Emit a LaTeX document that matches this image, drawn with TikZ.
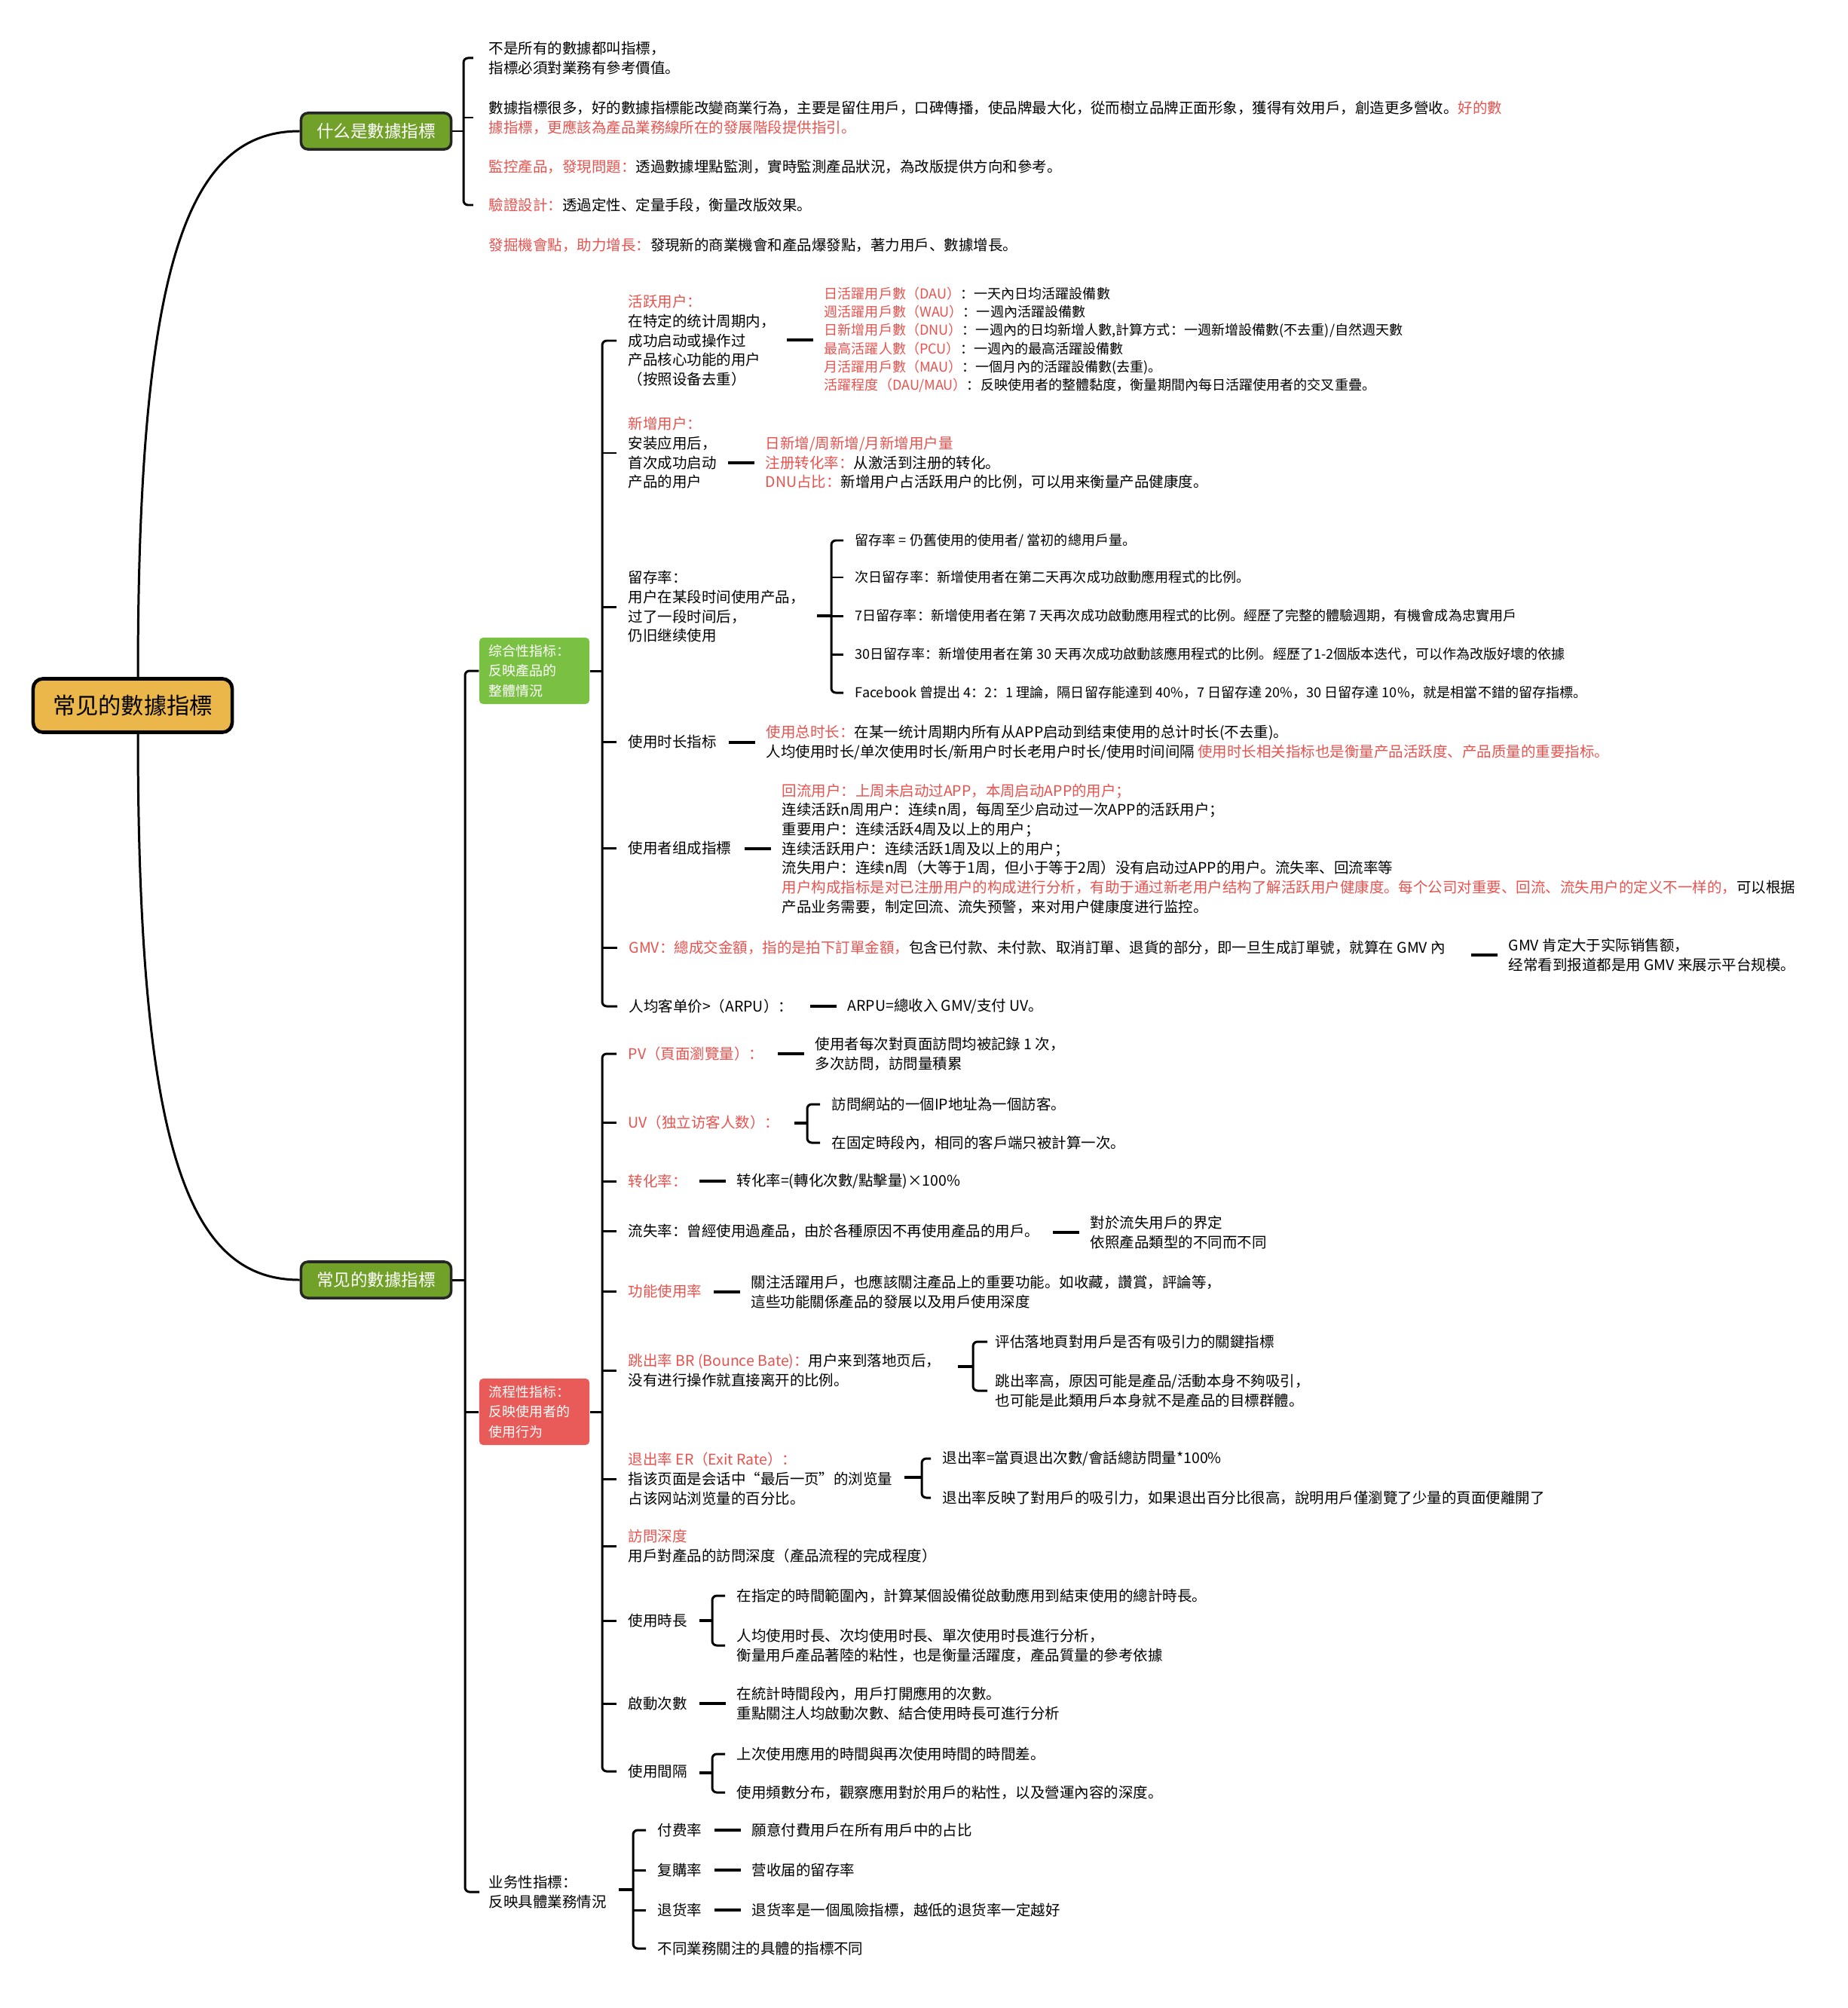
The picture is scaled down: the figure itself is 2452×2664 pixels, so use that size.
\documentclass[tikz,border=0pt]{standalone}
\usepackage{fontspec}
\setmainfont{Noto Sans CJK SC}
\definecolor{rootgold}{HTML}{EBB74A}
\definecolor{branchgreen}{HTML}{72A12A}
\definecolor{groupgreen}{HTML}{7AC143}
\definecolor{groupred}{HTML}{E95B58}
\definecolor{notered}{HTML}{E8534F}
\newcommand{\redtxt}[1]{\textcolor{notered}{#1}}

\begin{document}
\begin{tikzpicture}[x=0.01cm, y=-0.01cm,
  link/.style={line width=0.85pt},
  stub/.style={line width=1.3pt},
  note/.style={anchor=west, inner sep=0pt, align=left, font=\fontsize{5.54}{7.3}\selectfont},
  smallnote/.style={note, font=\fontsize{5.14}{6.9}\selectfont},
  rootbox/.style={draw=black, line width=1.3pt, fill=rootgold, rounded corners=0.13cm,
    minimum width=2.64cm, minimum height=0.71cm, inner sep=0pt, font=\fontsize{8.6}{10}\selectfont},
  branchbox/.style={draw=black!85, line width=1pt, fill=branchgreen, text=white, rounded corners=0.09cm,
    minimum width=1.99cm, minimum height=0.48cm, inner sep=0pt, font=\fontsize{6.4}{8}\selectfont},
  groupbox/.style={rounded corners=0.05cm, text=white, text width=1.2cm, inner xsep=0.13cm, inner ysep=0pt,
    minimum height=0.88cm, align=left, font=\fontsize{5.1}{7.5}\selectfont}]
  \useasboundingbox (0,0) rectangle (2452,2664);
  \fill[white] (0,0) rectangle (2452,2664);

  % \twig[gap]{spine}{child}: straight tick from a brace spine to one child
  \newcommand{\twig}[3][1.5mm]{\draw[link] (#3.west -| #2) -- ([xshift=-#1]#3.west);}
  % \arm[gap]{spine}{first}{last}: brace spine, rounded at the first and last child
  \newcommand{\arm}[4][1.5mm]{\draw[link, rounded corners=0.06cm] ([xshift=-#1]#3.west) -- (#3.west -| #2)
    -- (#4.west -| #2) -- ([xshift=-#1]#4.west);}
  % \stubto{child}: short thick stroke leading into a detail node
  \newcommand{\stubto}[1]{\draw[stub] ([xshift=-0.49cm]#1.west) -- ([xshift=-0.14cm]#1.west);}

  % ---------- root and the two main branches ----------
  \node[rootbox] (root) at (176,936) {常见的數據指標};
  \node[branchbox] (what) at (499,174) {什么是數據指標};
  \node[branchbox] (common) at (499,1698) {常见的數據指標};
  \draw[link] ([xshift=0.07cm]root.north) .. controls +(0,-560) and +(-145,0) .. (what.west);
  \draw[link] ([xshift=0.07cm]root.south) .. controls +(0,560) and +(-145,0) .. (common.west);

  % ---------- 什么是數據指標 ----------
  \coordinate (sp-what) at (615,174);
  \node[note] (t1) at (648,77) {不是所有的數據都叫指標，\\指標必須對業務有參考價值。};
  \node[note] (t2) at (648,156) {數據指標很多，好的數據指標能改變商業行為，主要是留住用戶，口碑傳播，使品牌最大化，從而樹立品牌正面形象，獲得有效用戶，創造更多營收。\redtxt{好的數}\\\redtxt{據指標，更應該為產品業務線所在的發展階段提供指引。}};
  \node[note] (t3) at (648,221) {\redtxt{監控產品，發現問題：}透過數據埋點監測，實時監測產品狀況，為改版提供方向和參考。};
  \node[note] (t4) at (648,272) {\redtxt{驗證設計：}透過定性、定量手段，衡量改版效果。};
  \node[note] (t5) at (648,325) {\redtxt{發掘機會點，助力增長：}發現新的商業機會和產品爆發點，著力用戶、數據增長。};
  \draw[link] (what.east) -- (sp-what);
  \arm[2mm]{sp-what}{t1}{t4}
  \twig[2mm]{sp-what}{t2}

  % ---------- 常见的數據指標: three groups ----------
  \coordinate (sp-common) at (617,1698);
  \node[groupbox, fill=groupgreen] (overall) at (709,890) {综合性指标：\\反映產品的\\整體情況};
  \node[groupbox, fill=groupred] (flow) at (709,1873) {流程性指标：\\反映使用者的\\使用行为};
  \node[note] (biz) at (648,2510) {业务性指標：\\反映具體業務情況};
  \draw[link] (common.east) -- (sp-common);
  \draw[link, rounded corners=0.06cm] (overall.west) -- (overall.west -| sp-common)
    -- (biz.west -| sp-common) -- ([xshift=-1.2mm]biz.west);
  \twig[0mm]{sp-common}{flow}

  % ---------- 综合性指标 ----------
  \coordinate (sp-overall) at (799,890);
  \draw[link] (overall.east) -- (sp-overall);
  \node[note] (hy) at (833,452) {\redtxt{活跃用户：}\\在特定的统计周期内，\\成功启动或操作过\\产品核心功能的用户\\（按照设备去重）};
  \node[smallnote] (hyd) at (1093,451) {\redtxt{日活躍用戶數（DAU）}：一天內日均活躍設備數\\
    \redtxt{週活躍用戶數（WAU）}：一週內活躍設備數\\
    \redtxt{日新增用戶數（DNU）}：一週內的日均新增人數,計算方式：一週新增設備數(不去重)/自然週天數\\
    \redtxt{最高活躍人數（PCU）}：一週內的最高活躍設備數\\
    \redtxt{月活躍用戶數（MAU）}：一個月內的活躍設備數(去重)。\\
    \redtxt{活躍程度（DAU/MAU）}：反映使用者的整體黏度，衡量期間內每日活躍使用者的交叉重疊。};
  \stubto{hyd}

  \node[note] (xz) at (833,601) {\redtxt{新增用户：}\\安装应用后，\\首次成功启动\\产品的用户};
  \node[note] (xzd) at (1015,614) {\redtxt{日新增/周新增/月新增用户量}\\
    \redtxt{注册转化率：}从激活到注册的转化。\\
    \redtxt{DNU占比：}新增用户占活跃用户的比例，可以用来衡量产品健康度。};
  \stubto{xzd}

  \node[note] (lc) at (833,805) {留存率：\\用户在某段时间使用产品，\\过了一段时间后，\\仍旧继续使用};
  \coordinate (sp-lc) at (1103,817);
  \draw[stub] ([xshift=-0.19cm]sp-lc) -- (sp-lc);
  \node[smallnote] (lc1) at (1134,717) {留存率 = 仍舊使用的使用者/ 當初的總用戶量。};
  \node[smallnote] (lc2) at (1134,766) {次日留存率：新增使用者在第二天再次成功啟動應用程式的比例。};
  \node[smallnote] (lc3) at (1134,817) {7日留存率：新增使用者在第 7 天再次成功啟動應用程式的比例。經歷了完整的體驗週期，有機會成為忠實用戶};
  \node[smallnote] (lc4) at (1134,868) {30日留存率：新增使用者在第 30 天再次成功啟動該應用程式的比例。經歷了1-2個版本迭代，可以作為改版好壞的依據};
  \node[smallnote] (lc5) at (1134,919) {Facebook 曾提出 4：2：1 理論，隔日留存能達到 40\%，7 日留存達 20\%，30 日留存達 10\%，就是相當不錯的留存指標。};
  \arm{sp-lc}{lc1}{lc5}
  \foreach \kid in {lc2,lc3,lc4} {\twig{sp-lc}{\kid}}

  \node[note] (sc) at (833,984) {使用时长指标};
  \node[note] (scd) at (1016,985) {\redtxt{使用总时长：}在某一统计周期内所有从APP启动到结束使用的总计时长(不去重)。\\
    人均使用时长/单次使用时长/新用户时长老用户时长/使用时间间隔 \redtxt{使用时长相关指标也是衡量产品活跃度、产品质量的重要指标。}};
  \stubto{scd}

  \node[note] (zc) at (833,1125) {使用者组成指標};
  \node[note] (zcd) at (1037,1126) {\redtxt{回流用户：上周未启动过APP，本周启动APP的用户；}\\
    连续活跃n周用户：连续n周，每周至少启动过一次APP的活跃用户；\\
    重要用户：连续活跃4周及以上的用户；\\
    连续活跃用户：连续活跃1周及以上的用户；\\
    流失用户：连续n周（大等于1周，但小于等于2周）没有启动过APP的用户。流失率、回流率等\\
    \redtxt{用户构成指标是对已注册用户的构成进行分析，有助于通过新老用户结构了解活跃用户健康度。每个公司对重要、回流、流失用户的定义不一样的，}可以根据\\
    产品业务需要，制定回流、流失预警，来对用户健康度进行监控。};
  \stubto{zcd}

  \node[note] (gmv) at (834,1257) {\redtxt{GMV：總成交金額，指的是拍下訂單金額，}包含已付款、未付款、取消訂單、退貨的部分，即一旦生成訂單號，就算在 GMV 內};
  \node[note] (gmvd) at (2001,1267) {GMV 肯定大于实际销售额，\\经常看到报道都是用 GMV 来展示平台规模。};
  \stubto{gmvd}

  \node[note] (arpu) at (834,1335) {人均客单价>（ARPU）：};
  \node[note] (arpud) at (1124,1335) {ARPU=總收入 GMV/支付 UV。};
  \stubto{arpud}

  \arm{sp-overall}{hy}{arpu}
  \foreach \kid in {xz,lc,sc,zc,gmv} {\twig{sp-overall}{\kid}}

  % ---------- 流程性指标 ----------
  \coordinate (sp-flow) at (799,1873);
  \draw[link] (flow.east) -- (sp-flow);
  \node[note] (pv) at (833,1398) {\redtxt{PV（頁面瀏覽量）：}};
  \node[note] (pvd) at (1081,1398) {使用者每次對頁面訪問均被記錄 1 次，\\多次訪問，訪問量積累};
  \stubto{pvd}

  \node[note] (uv) at (833,1489) {\redtxt{UV（独立访客人数）：}};
  \coordinate (sp-uv) at (1071,1490);
  \draw[stub] ([xshift=-0.17cm]sp-uv) -- (sp-uv);
  \node[note] (uv1) at (1103,1465) {訪問網站的一個IP地址為一個訪客。};
  \node[note] (uv2) at (1103,1516) {在固定時段內，相同的客戶端只被計算一次。};
  \arm{sp-uv}{uv1}{uv2}

  \node[note] (zh) at (833,1567) {\redtxt{转化率：}};
  \node[note] (zhd) at (977,1567) {转化率=(轉化次數/點擊量)×100\%};
  \stubto{zhd}

  \node[note] (ls) at (833,1633) {流失率：曾經使用過產品，由於各種原因不再使用產品的用戶。};
  \node[note] (lsd) at (1446,1635) {對於流失用戶的界定\\依照產品類型的不同而不同};
  \stubto{lsd}

  \node[note] (gn) at (833,1713) {\redtxt{功能使用率}};
  \node[note] (gnd) at (996,1714) {關注活躍用戶，也應該關注產品上的重要功能。如收藏，讚賞，評論等，\\這些功能關係產品的發展以及用戶使用深度};
  \stubto{gnd}

  \node[note] (tc) at (833,1818) {\redtxt{跳出率 BR (Bounce Bate)：}用户来到落地页后，\\没有进行操作就直接离开的比例。};
  \coordinate (sp-tc) at (1291,1813);
  \draw[stub] ([xshift=-0.2cm]sp-tc) -- (sp-tc);
  \node[note] (tc1) at (1320,1780) {评估落地頁對用戶是否有吸引力的關鍵指標};
  \node[note] (tc2) at (1320,1845) {跳出率高，原因可能是產品/活動本身不夠吸引，\\也可能是此類用戶本身就不是產品的目標群體。};
  \arm[1mm]{sp-tc}{tc1}{tc2}

  \node[note] (tr) at (833,1962) {\redtxt{退出率 ER（Exit Rate）：}\\指该页面是会话中“最后一页”的浏览量\\占该网站浏览量的百分比。};
  \coordinate (sp-tr) at (1223,1960);
  \draw[stub] ([xshift=-0.23cm]sp-tr) -- (sp-tr);
  \node[note] (tr1) at (1250,1935) {退出率=當頁退出次數/會話總訪問量*100\%};
  \node[note] (tr2) at (1250,1987) {退出率反映了對用戶的吸引力，如果退出百分比很高，說明用戶僅瀏覽了少量的頁面便離開了};
  \arm{sp-tr}{tr1}{tr2}

  \node[note] (fw) at (833,2051) {\redtxt{訪問深度}\\用戶對產品的訪問深度（產品流程的完成程度）};

  \node[note] (sy) at (833,2150) {使用時長};
  \coordinate (sp-sy) at (945,2150);
  \draw[stub] ([xshift=-0.17cm]sp-sy) -- (sp-sy);
  \node[note] (sy1) at (977,2117) {在指定的時間範圍內，計算某個設備從啟動應用到結束使用的總計時長。};
  \node[note] (sy2) at (977,2183) {人均使用时長、次均使用时長、單次使用时長進行分析，\\衡量用戶產品著陸的粘性，也是衡量活躍度，產品質量的參考依據};
  \arm{sp-sy}{sy1}{sy2}

  \node[note] (qd) at (833,2260) {啟動次數};
  \node[note] (qdd) at (977,2260) {在統計時間段內，用戶打開應用的次數。\\重點關注人均啟動次數、結合使用時長可進行分析};
  \stubto{qdd}

  \node[note] (jg) at (833,2350) {使用間隔};
  \coordinate (sp-jg) at (945,2352);
  \draw[stub] ([xshift=-0.17cm]sp-jg) -- (sp-jg);
  \node[note] (jg1) at (977,2327) {上次使用應用的時間與再次使用時間的時間差。};
  \node[note] (jg2) at (977,2378) {使用頻數分布，觀察應用對於用戶的粘性，以及營運內容的深度。};
  \arm{sp-jg}{jg1}{jg2}

  \arm{sp-flow}{pv}{jg}
  \foreach \kid in {uv,zh,ls,gn,tc,tr,fw,sy,qd} {\twig{sp-flow}{\kid}}

  % ---------- 业务性指標 ----------
  \coordinate (sp-biz) at (840,2507);
  \draw[stub] ([xshift=-0.19cm]sp-biz) -- (sp-biz);
  \node[note] (ff) at (872,2428) {付费率};
  \node[note] (fg) at (872,2481) {复購率};
  \node[note] (th) at (872,2534) {退货率};
  \node[note] (bt) at (872,2585) {不同業務關注的具體的指標不同};
  \node[note] (ffd) at (997,2428) {願意付費用戶在所有用戶中的占比};
  \node[note] (fgd) at (997,2481) {营收届的留存率};
  \node[note] (thd) at (997,2534) {退货率是一個風險指標，越低的退货率一定越好};
  \foreach \kid in {ffd,fgd,thd} {\stubto{\kid}}
  \arm{sp-biz}{ff}{bt}
  \foreach \kid in {fg,th} {\twig{sp-biz}{\kid}}
\end{tikzpicture}
\end{document}
